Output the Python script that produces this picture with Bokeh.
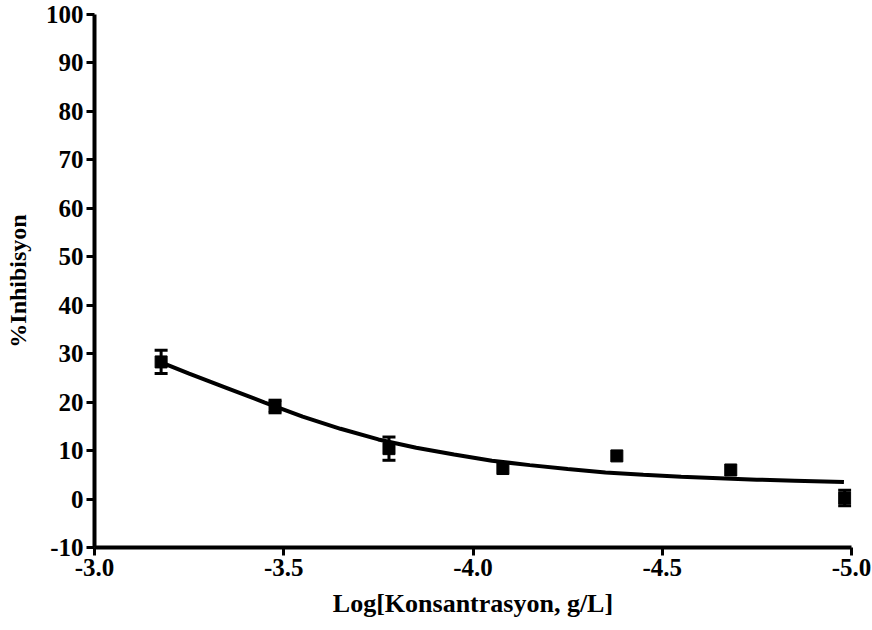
from bokeh.plotting import figure
from bokeh.models import Range1d, ColumnDataSource, Whisker, TeeHead, FixedTicker
from bokeh.embed import file_html
from bokeh.resources import INLINE

# Measured data (log concentration, % inhibition, SEM)
log_conc = [-3.176, -3.477, -3.778, -4.079, -4.380, -4.681, -4.982]
inhibition = [28.3, 19.1, 10.4, 6.3, 8.9, 6.0, 0.2]
sem = [2.4, 1.3, 2.4, 0.0, 0.0, 0.0, 1.6]

# Fitted curve
curve_x = [-3.176, -3.25, -3.35, -3.45, -3.55, -3.65, -3.75, -3.85, -3.95,
           -4.05, -4.15, -4.25, -4.35, -4.45, -4.55, -4.65, -4.75, -4.85, -4.98]
curve_y = [28.2, 25.9, 22.9, 19.9, 17.0, 14.5, 12.3, 10.6, 9.2,
           7.9, 7.0, 6.2, 5.5, 5.0, 4.6, 4.3, 4.0, 3.8, 3.5]

x_ticks = [-3.0, -3.5, -4.0, -4.5, -5.0]
y_ticks = [-10, 0, 10, 20, 30, 40, 50, 60, 70, 80, 90, 100]

p = figure(width=872, height=630, output_backend="svg", toolbar_location=None,
           x_range=Range1d(-3.0, -5.0), y_range=Range1d(-10, 100),
           min_border_left=94, min_border_right=21, min_border_top=14,
           min_border_bottom=83)
p.outline_line_color = None
p.xgrid.visible = False
p.ygrid.visible = False

FONT = "Liberation Serif"
for ax in (p.xaxis[0], p.yaxis[0]):
    ax.axis_line_width = 4
    ax.axis_line_color = "black"
    ax.major_tick_line_width = 3
    ax.major_tick_in = 0
    ax.major_tick_out = 8
    ax.minor_tick_line_color = None
    ax.major_label_text_font = FONT
    ax.major_label_text_font_style = "bold"
    ax.major_label_text_font_size = "25px"
    ax.major_label_text_color = "black"
    ax.axis_label_text_font = FONT
    ax.axis_label_text_font_style = "bold"
    ax.axis_label_text_color = "black"

p.xaxis[0].ticker = FixedTicker(ticks=x_ticks)
p.yaxis[0].ticker = FixedTicker(ticks=y_ticks)
p.xaxis[0].major_label_overrides = {t: f"{t:.1f}" for t in x_ticks}
p.yaxis[0].major_label_overrides = {t: str(t) for t in y_ticks}
p.xaxis[0].major_label_standoff = 3
p.yaxis[0].major_label_standoff = 3
p.xaxis[0].axis_label = "Log[Konsantrasyon, g/L]"
p.yaxis[0].axis_label = "%Inhibisyon"
p.xaxis[0].axis_label_text_font_size = "26px"
p.yaxis[0].axis_label_text_font_size = "24px"
p.xaxis[0].axis_label_standoff = 10
p.yaxis[0].axis_label_standoff = 12

p.line(curve_x, curve_y, line_width=4, line_color="black")

src = ColumnDataSource(dict(x=log_conc, y=inhibition))
err = [(x, v, e) for x, v, e in zip(log_conc, inhibition, sem) if e > 0]
esrc = ColumnDataSource(dict(
    x=[a for a, _, _ in err],
    upper=[v + e for _, v, e in err],
    lower=[v - e for _, v, e in err],
))
w = Whisker(source=esrc, base="x", upper="upper", lower="lower",
            line_width=3, line_color="black",
            upper_head=TeeHead(size=13, line_width=3, line_color="black"),
            lower_head=TeeHead(size=13, line_width=3, line_color="black"))
p.add_layout(w)
p.scatter("x", "y", source=src, marker="square", size=12,
          fill_color="black", line_color="black")

open("out.html", "w").write(file_html(p, INLINE))
